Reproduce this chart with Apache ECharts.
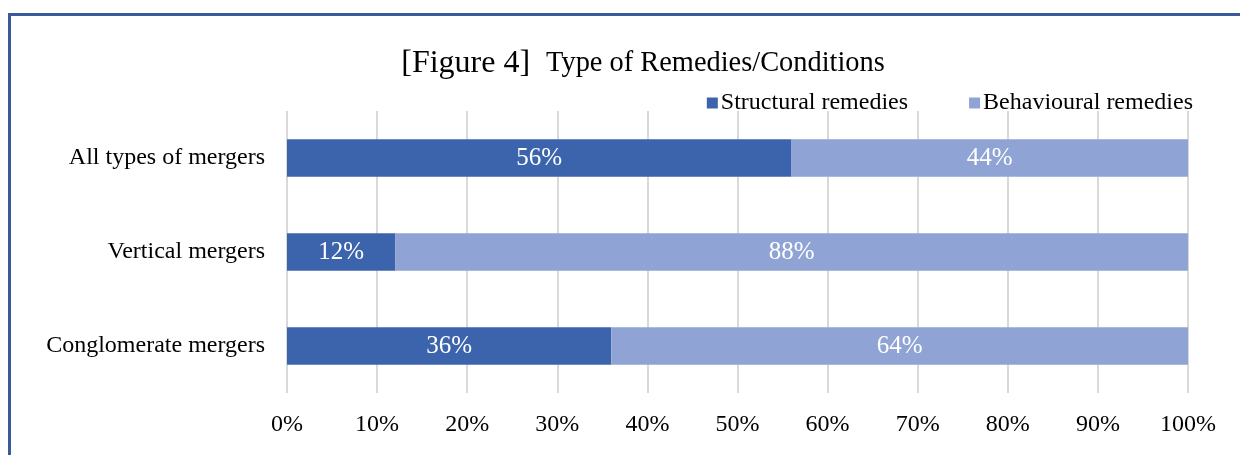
<!DOCTYPE html>
<html>
<head>
<meta charset="utf-8">
<script src="https://cdn.jsdelivr.net/npm/echarts@6/dist/echarts.min.js"></script>
<style>
  html, body { margin: 0; padding: 0; background: #fff; }
  #frame {
    position: absolute; left: 8px; top: 13px; width: 1240px; height: 460px;
    border: 3px solid #3a5a9c; box-sizing: border-box;
  }
  #chart { position: absolute; left: 0; top: 0; width: 1240px; height: 455px; }
</style>
</head>
<body>
<div id="frame"></div>
<div id="chart"></div>
<script>
// chart data
var categories = ['Conglomerate mergers', 'Vertical mergers', 'All types of mergers']
var structural = [36, 12, 56]
var behavioural = [64, 88, 44]
var seriesNames = ['Structural remedies', 'Behavioural remedies']

var serif = '"Liberation Serif", "DejaVu Serif", serif'

var chart = echarts.init(document.getElementById('chart'))

function barSeries(name, values, color) {
  return {
    name: name,
    type: 'bar',
    stack: 'total',
    barWidth: '40%',
    data: values,
    itemStyle: { color: color },
    label: {
      show: true,
      position: 'inside',
      formatter: '{c}%',
      color: '#fff',
      fontFamily: serif,
      fontSize: 25
    }
  }
}

chart.setOption({
  animation: false,
  title: {
    text: '{a|[Figure 4]}  {b|Type of Remedies/Conditions}',
    left: 638,
    top: 43,
    textAlign: 'center',
    textStyle: {
      fontWeight: 'normal',
      rich: {
        a: { fontFamily: serif, fontSize: 32, color: '#000', fontWeight: 'normal' },
        b: { fontFamily: serif, fontSize: 28.4, color: '#000', fontWeight: 'normal', padding: [0, 0, 0, 6] }
      }
    }
  },
  legend: {
    data: seriesNames,
    right: 42,
    top: 86,
    itemWidth: 11,
    itemHeight: 11,
    itemGap: 61,
    icon: 'rect',
    textStyle: { fontFamily: serif, fontSize: 24, color: '#000', padding: [0, 0, 0, -2] }
  },
  grid: {
    left: 287,
    right: 52,
    top: 111,
    bottom: 62
  },
  xAxis: {
    type: 'value',
    min: 0,
    max: 100,
    interval: 10,
    axisLabel: {
      formatter: '{value}%',
      fontFamily: serif,
      fontSize: 24,
      color: '#000',
      margin: 20
    },
    axisLine: { show: false },
    axisTick: { show: false },
    splitLine: { lineStyle: { color: '#d9d9d9', width: 2 } }
  },
  yAxis: {
    type: 'category',
    data: categories,
    axisLine: { show: false },
    axisTick: { show: false },
    axisLabel: {
      fontFamily: serif,
      fontSize: 24,
      color: '#000',
      margin: 22
    }
  },
  series: [
    barSeries(seriesNames[0], structural, '#3c64ac'),
    barSeries(seriesNames[1], behavioural, '#8fa4d4')
  ]
})
</script>
</body>
</html>
